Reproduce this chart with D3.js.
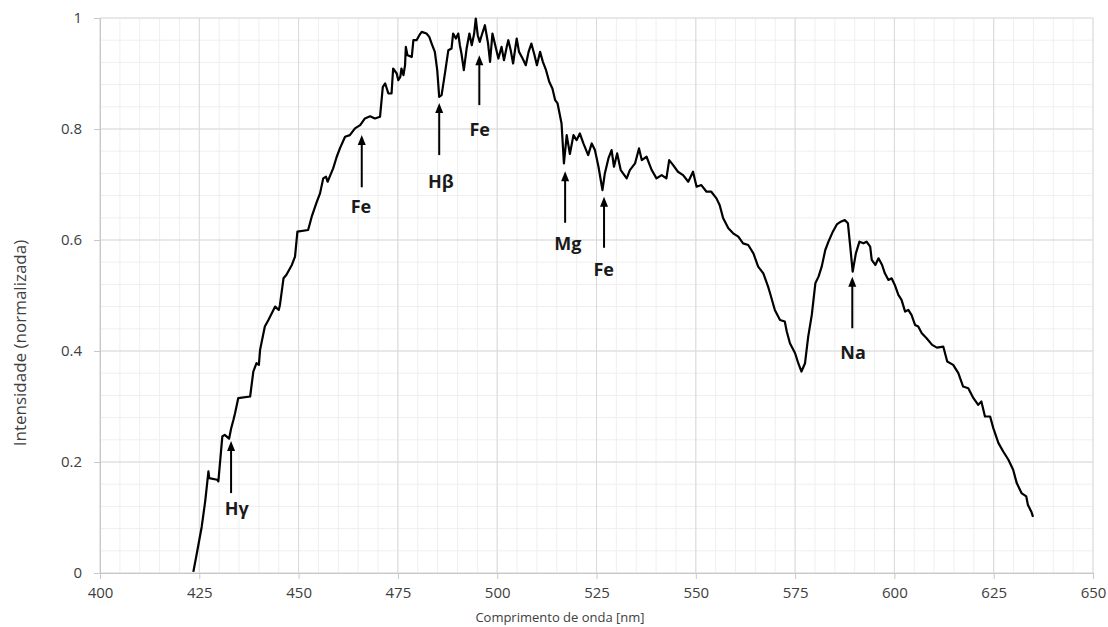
<!DOCTYPE html>
<html>
<head>
<meta charset="utf-8">
<script src="https://cdn.jsdelivr.net/npm/d3@7"></script>
<style>
  body { margin: 0; background: #fff; }
  text { font-family: "Open Sans", sans-serif; }
</style>
</head>
<body>
<svg id="chart" width="1108" height="627"></svg>
<script>
// spectrum
var wavelength = [
  423.5, 424.5, 425.6, 426.5, 427.3, 427.5, 429.5, 429.8, 430.8, 431.4, 432.5, 433.0, 433.6, 434.0, 434.8,
  437.8, 438.6, 439.4, 440.0, 440.3, 441.5, 442.4, 444.1, 445.0, 445.3, 446.2, 446.9, 448.3, 449.1, 449.7,
  452.4, 453.3, 454.6, 455.4, 456.2, 456.9, 457.3, 458.7, 459.6, 460.4, 461.7, 462.9, 464.2, 465.5, 466.7,
  468.0, 469.2, 470.5,
  471.2, 471.8, 472.6, 473.4, 473.8, 474.7, 475.1, 475.6, 475.9, 476.4, 476.8, 477.0, 477.4, 478.5, 478.9,
  479.7, 480.4, 481.0, 482.2, 482.9, 483.5, 484.3, 484.9, 485.4, 486.0, 486.9, 487.7, 488.5, 488.9, 489.6,
  490.2, 490.6, 491.0, 491.6, 492.3, 493.0, 493.6, 494.2, 494.6, 495.1, 495.6, 496.1, 496.9, 497.7, 498.2,
  498.8, 499.4, 500.3, 501.1, 501.7, 502.4, 502.8, 503.4, 504.0, 504.9, 505.5, 506.4, 507.2, 507.9, 508.6,
  509.4, 510.0, 510.8, 511.5, 512.3, 513.1, 513.9, 514.6, 515.2,
  516.2, 516.8, 517.5, 518.3, 519.2, 520.0, 520.8, 521.7, 522.9, 523.8, 524.6, 525.5, 526.5, 527.1,
  528.0, 528.8, 529.4, 530.2, 531.1, 532.6, 533.4, 534.7, 535.7, 536.4, 537.6, 538.9, 540.1, 541.4, 542.6,
  543.3, 544.3, 545.5, 546.8, 548.1, 549.3, 550.2, 551.4, 552.7, 553.9, 555.2, 556.0, 556.9, 558.2, 559.4,
  560.7, 561.9, 563.2, 564.5, 565.7, 567.0, 568.2, 568.7, 569.9, 571.2, 572.4, 572.9, 573.7, 575.0, 575.8,
  576.6, 577.5, 578.3, 579.2, 580.1, 580.9, 581.7, 582.6, 583.4, 584.5, 585.5, 586.5, 587.5, 588.3, 588.8,
  589.5, 590.3, 591.2, 592.2, 593.0, 593.9, 594.3, 595.2, 596.0, 596.9, 597.6, 598.5, 599.3, 600.1, 601.0,
  601.8, 602.7, 603.5, 604.3, 605.2, 606.0, 606.9, 608.1, 609.5, 610.7, 612.3, 613.3, 614.8, 616.1, 617.3,
  618.6, 619.9, 621.1, 621.9, 622.8, 624.1, 624.9, 626.2, 627.4, 628.7, 629.9, 630.8, 632.0, 633.2, 633.6,
  634.5, 634.9
];
var intensity = [
  0.002, 0.040, 0.083, 0.130, 0.183, 0.171, 0.168, 0.165, 0.246, 0.249, 0.242, 0.260, 0.276, 0.288, 0.315,
  0.318, 0.363, 0.378, 0.375, 0.402, 0.444, 0.456, 0.480, 0.474, 0.483, 0.531, 0.537, 0.555, 0.570, 0.615,
  0.618, 0.642, 0.669, 0.684, 0.711, 0.714, 0.705, 0.729, 0.750, 0.765, 0.786, 0.789, 0.801, 0.807, 0.819,
  0.823, 0.819, 0.822,
  0.876, 0.882, 0.864, 0.864, 0.909, 0.900, 0.888, 0.894, 0.909, 0.897, 0.915, 0.948, 0.933, 0.930, 0.960,
  0.960, 0.969, 0.975, 0.972, 0.966, 0.954, 0.939, 0.906, 0.858, 0.861, 0.903, 0.942, 0.945, 0.972, 0.963,
  0.972, 0.951, 0.936, 0.906, 0.945, 0.972, 0.951, 0.972, 0.999, 0.969, 0.957, 0.969, 0.987, 0.954, 0.921,
  0.972, 0.954, 0.927, 0.948, 0.924, 0.948, 0.960, 0.942, 0.918, 0.963, 0.939, 0.927, 0.915, 0.939, 0.954,
  0.933, 0.915, 0.939, 0.921, 0.906, 0.885, 0.873, 0.852, 0.846,
  0.810, 0.738, 0.789, 0.755, 0.789, 0.780, 0.792, 0.774, 0.753, 0.774, 0.762, 0.732, 0.690, 0.720,
  0.747, 0.762, 0.732, 0.756, 0.726, 0.711, 0.726, 0.738, 0.765, 0.744, 0.750, 0.726, 0.711, 0.717, 0.711,
  0.744, 0.735, 0.723, 0.717, 0.705, 0.723, 0.696, 0.699, 0.687, 0.687, 0.675, 0.663, 0.639, 0.621, 0.612,
  0.606, 0.594, 0.591, 0.576, 0.552, 0.540, 0.516, 0.504, 0.474, 0.456, 0.453, 0.435, 0.414, 0.396, 0.378,
  0.363, 0.378, 0.426, 0.465, 0.522, 0.534, 0.552, 0.582, 0.597, 0.615, 0.628, 0.633, 0.636, 0.630, 0.594,
  0.543, 0.576, 0.597, 0.594, 0.597, 0.588, 0.564, 0.555, 0.567, 0.555, 0.540, 0.528, 0.531, 0.519, 0.501,
  0.492, 0.471, 0.474, 0.465, 0.447, 0.444, 0.432, 0.423, 0.411, 0.406, 0.408, 0.381, 0.375, 0.360, 0.336,
  0.333, 0.315, 0.303, 0.309, 0.282, 0.282, 0.261, 0.234, 0.219, 0.204, 0.186, 0.162, 0.144, 0.138, 0.123,
  0.110, 0.101
];

// absorption line marks: name, wavelength of arrow, arrow tip / tail and label baseline (intensity)
var lineNames = ['Hγ', 'Fe', 'Hβ', 'Fe', 'Mg', 'Fe', 'Na'];
var lineWave  = [433.0, 465.9, 485.4, 495.5, 517.1, 526.9, 589.4];
var labelWave = [434.4, 465.7, 485.8, 495.6, 517.8, 526.8, 589.6];
var arrowTip  = [0.238, 0.789, 0.847, 0.933, 0.724, 0.678, 0.534];
var arrowTail = [0.144, 0.695, 0.753, 0.843, 0.631, 0.586, 0.441];
var labelBase = [0.105, 0.649, 0.694, 0.787, 0.582, 0.535, 0.386];

var xTicks = [400, 425, 450, 475, 500, 525, 550, 575, 600, 625, 650];
var yTicks = [0, 0.2, 0.4, 0.6, 0.8, 1];

var svg = d3.select('#chart');
var margin = { top: 18, left: 100, right: 15, bottom: 54 };
var width = 1108 - margin.left - margin.right;
var height = 627 - margin.top - margin.bottom;

var x = d3.scaleLinear().domain([400, 650]).range([0, width]);
var y = d3.scaleLinear().domain([0, 1]).range([height, 0]);

var g = svg.append('g')
  .attr('transform', 'translate(' + margin.left + ',' + margin.top + ')');

// minor grid
g.append('g').selectAll('line')
  .data(d3.range(400, 651, 5))
  .enter().append('line')
  .attr('x1', function(d){ return x(d); }).attr('x2', function(d){ return x(d); })
  .attr('y1', 0).attr('y2', height)
  .attr('stroke', '#efefef').attr('stroke-width', 1);
g.append('g').selectAll('line')
  .data(d3.range(0, 26).map(function(i){ return i * 0.04; }))
  .enter().append('line')
  .attr('x1', 0).attr('x2', width)
  .attr('y1', function(d){ return y(d); }).attr('y2', function(d){ return y(d); })
  .attr('stroke', '#efefef').attr('stroke-width', 1);

// major grid
g.append('g').selectAll('line')
  .data(xTicks)
  .enter().append('line')
  .attr('x1', function(d){ return x(d); }).attr('x2', function(d){ return x(d); })
  .attr('y1', 0).attr('y2', height)
  .attr('stroke', '#d9d9d9').attr('stroke-width', 1);
g.append('g').selectAll('line')
  .data(yTicks)
  .enter().append('line')
  .attr('x1', 0).attr('x2', width)
  .attr('y1', function(d){ return y(d); }).attr('y2', function(d){ return y(d); })
  .attr('stroke', '#d9d9d9').attr('stroke-width', 1);

// axes
var xAxis = g.append('g')
  .attr('transform', 'translate(0,' + height + ')')
  .call(d3.axisBottom(x).tickValues(xTicks).tickSize(6).tickPadding(8));
var yAxis = g.append('g')
  .call(d3.axisLeft(y).tickValues(yTicks).tickSize(6).tickPadding(12)
    .tickFormat(function(d){ return d3.format('')(+d.toFixed(1)); }));

[xAxis, yAxis].forEach(function(a){
  a.select('.domain').attr('stroke', '#c8c8c8');
  a.selectAll('.tick line').attr('stroke', '#c8c8c8');
  a.selectAll('.tick text')
    .attr('fill', '#404040')
    .style('font-family', '"Open Sans", sans-serif')
    .style('font-size', '15px');
});

// spectrum
var line = d3.line()
  .x(function(d){ return x(d[0]); })
  .y(function(d){ return y(d[1]); });

g.append('path')
  .datum(d3.zip(wavelength, intensity))
  .attr('d', line)
  .attr('fill', 'none')
  .attr('stroke', '#000')
  .attr('stroke-width', 2.2)
  .attr('stroke-linejoin', 'round');

// line markers
var marks = g.append('g').selectAll('g')
  .data(d3.range(lineNames.length))
  .enter().append('g');

marks.append('line')
  .attr('x1', function(i){ return x(lineWave[i]); })
  .attr('x2', function(i){ return x(lineWave[i]); })
  .attr('y1', function(i){ return y(arrowTail[i]); })
  .attr('y2', function(i){ return y(arrowTip[i]) + 8; })
  .attr('stroke', '#000').attr('stroke-width', 2);

marks.append('path')
  .attr('d', function(i){
    var cx = x(lineWave[i]), cy = y(arrowTip[i]);
    return 'M' + cx + ',' + cy + 'L' + (cx - 4) + ',' + (cy + 10) + 'L' + (cx + 4) + ',' + (cy + 10) + 'Z';
  })
  .attr('fill', '#000');

marks.append('text')
  .attr('x', function(i){ return x(labelWave[i]); })
  .attr('y', function(i){ return y(labelBase[i]); })
  .attr('text-anchor', 'middle')
  .style('font-family', '"Open Sans", sans-serif')
  .style('font-weight', 'bold')
  .style('font-size', '18px')
  .attr('fill', '#1a1a1a')
  .text(function(i){ return lineNames[i]; });

// axis titles
svg.append('text')
  .attr('transform', 'translate(26,343) rotate(-90)')
  .attr('text-anchor', 'middle')
  .style('font-size', '17px')
  .attr('fill', '#404040')
  .text('Intensidade (normalizada)');

svg.append('text')
  .attr('x', 560)
  .attr('y', 622)
  .attr('text-anchor', 'middle')
  .style('font-size', '13px')
  .attr('fill', '#404040')
  .text('Comprimento de onda [nm]');
</script>
</body>
</html>
